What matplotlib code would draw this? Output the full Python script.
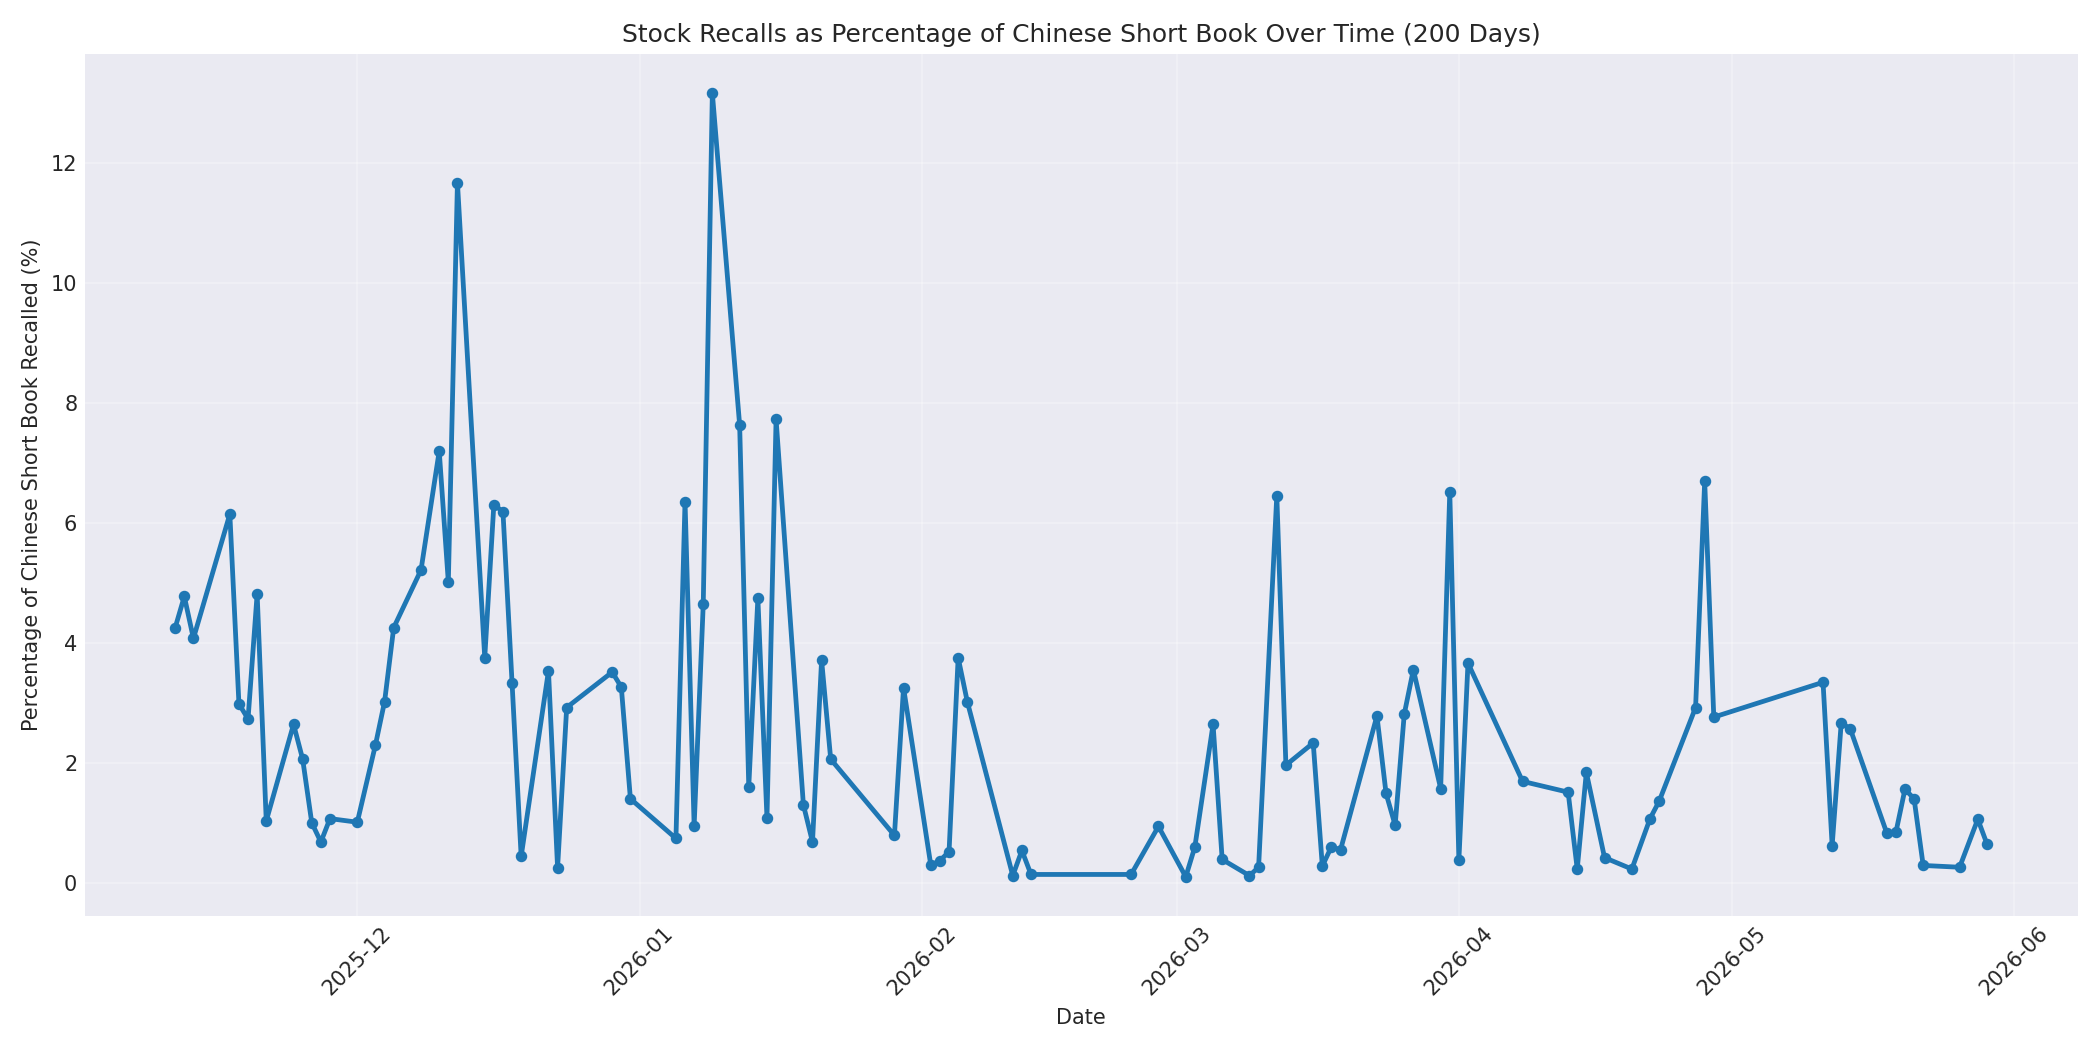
import matplotlib
matplotlib.use("Agg")
import matplotlib.pyplot as plt
import matplotlib.dates as mdates
import pandas as pd

dates = [
    "2025-11-11", "2025-11-12", "2025-11-13", "2025-11-17", "2025-11-18", "2025-11-19",
    "2025-11-20", "2025-11-21", "2025-11-24", "2025-11-25", "2025-11-26", "2025-11-27",
    "2025-11-28", "2025-12-01", "2025-12-03", "2025-12-04", "2025-12-05", "2025-12-08",
    "2025-12-10", "2025-12-11", "2025-12-12", "2025-12-15", "2025-12-16", "2025-12-17",
    "2025-12-18", "2025-12-19", "2025-12-22", "2025-12-23", "2025-12-24", "2025-12-29",
    "2025-12-30", "2025-12-31", "2026-01-05", "2026-01-06", "2026-01-07", "2026-01-08",
    "2026-01-09", "2026-01-12", "2026-01-13", "2026-01-14", "2026-01-15", "2026-01-16",
    "2026-01-19", "2026-01-20", "2026-01-21", "2026-01-22", "2026-01-29", "2026-01-30",
    "2026-02-02", "2026-02-03", "2026-02-04", "2026-02-05", "2026-02-06", "2026-02-11",
    "2026-02-12", "2026-02-13", "2026-02-24", "2026-02-27", "2026-03-02", "2026-03-03",
    "2026-03-05", "2026-03-06", "2026-03-09", "2026-03-10", "2026-03-12", "2026-03-13",
    "2026-03-16", "2026-03-17", "2026-03-18", "2026-03-19", "2026-03-23", "2026-03-24",
    "2026-03-25", "2026-03-26", "2026-03-27", "2026-03-30", "2026-03-31", "2026-04-01",
    "2026-04-02", "2026-04-08", "2026-04-13", "2026-04-14", "2026-04-15", "2026-04-17",
    "2026-04-20", "2026-04-22", "2026-04-23", "2026-04-27", "2026-04-28", "2026-04-29",
    "2026-05-11", "2026-05-12", "2026-05-13", "2026-05-14", "2026-05-18", "2026-05-19",
    "2026-05-20", "2026-05-21", "2026-05-22", "2026-05-26", "2026-05-28", "2026-05-29",
]

recall_pct = [
    4.26, 4.78, 4.08, 6.15, 2.99, 2.74,
    4.82, 1.04, 2.65, 2.07, 1.01, 0.69,
    1.08, 1.02, 2.31, 3.03, 4.26, 5.22,
    7.20, 5.02, 11.67, 3.76, 6.31, 6.19,
    3.34, 0.45, 3.54, 0.26, 2.93, 3.52,
    3.27, 1.41, 0.75, 6.36, 0.96, 4.65,
    13.16, 7.63, 1.61, 4.75, 1.09, 7.73,
    1.31, 0.69, 3.72, 2.07, 0.80, 3.26,
    0.30, 0.38, 0.53, 3.76, 3.03, 0.13,
    0.55, 0.15, 0.15, 0.95, 0.11, 0.61,
    2.65, 0.40, 0.13, 0.27, 6.46, 1.97,
    2.34, 0.29, 0.61, 0.56, 2.79, 1.50,
    0.97, 2.82, 3.56, 1.58, 6.52, 0.39,
    3.67, 1.70, 1.52, 0.24, 1.85, 0.43,
    0.24, 1.08, 1.37, 2.93, 6.70, 2.77,
    3.35, 0.63, 2.68, 2.57, 0.84, 0.85,
    1.57, 1.41, 0.30, 0.27, 1.07, 0.66,
]

title = "Stock Recalls as Percentage of Chinese Short Book Over Time (200 Days)"
xlabel = "Date"
ylabel = "Percentage of Chinese Short Book Recalled (%)"

plt.style.use("seaborn-v0_8-darkgrid")
plt.rcParams["font.family"] = ["DejaVu Sans"]

x = pd.to_datetime(dates)

fig, ax = plt.subplots(figsize=(14, 7), dpi=150)
ax.plot(x, recall_pct, marker="o", linestyle="-", linewidth=2.3, markersize=4.5, color="#1f77b4")
ax.set_title(title, fontsize=12)
ax.set_xlabel(xlabel, fontsize=10)
ax.set_ylabel(ylabel, fontsize=10)
ax.xaxis.set_major_locator(mdates.MonthLocator())
ax.xaxis.set_major_formatter(mdates.DateFormatter("%Y-%m"))
ax.tick_params(axis="both", labelsize=10)
plt.setp(ax.get_xticklabels(), rotation=45)
ax.grid(True, alpha=0.3)
fig.tight_layout()
fig.savefig("out.png", dpi=150)
